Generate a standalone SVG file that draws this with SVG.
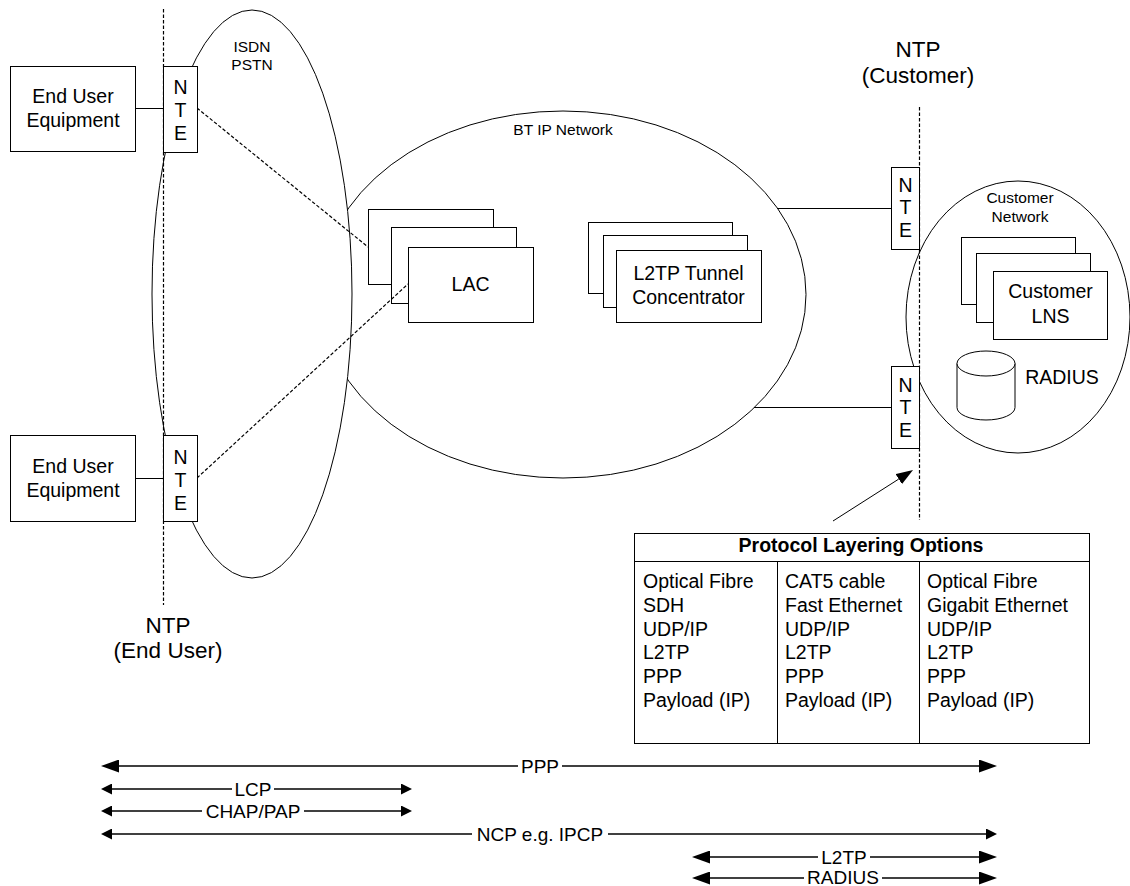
<svg xmlns="http://www.w3.org/2000/svg" width="1130" height="886" viewBox="0 0 1130 886">
<style>
.ln{stroke:#000;stroke-width:1;fill:none}
.box{fill:#fff;stroke:#000;stroke-width:1}
.cloud{fill:#fff;stroke:#000;stroke-width:1}
.dash{stroke:#000;stroke-width:1.2;stroke-dasharray:3.5 2;fill:none}
.arr{stroke:#000;stroke-width:1.5;fill:none}
.t{font-family:"Liberation Sans",Arial,Helvetica,sans-serif;font-size:19.5px;fill:#000}
.s{font-size:15.5px}
.big{font-size:22.5px}
.lbl{font-size:19px}
.b{font-weight:bold}
.m{text-anchor:middle}
.bg{fill:#fff;stroke:none}
</style>
<defs>
<marker id="ah" markerUnits="userSpaceOnUse" markerWidth="18" markerHeight="13" refX="0" refY="6.5" orient="auto-start-reverse" viewBox="0 0 18 13">
<path d="M0,0 L18,6.5 L0,13 z" fill="#000"/>
</marker>
<marker id="as" markerUnits="userSpaceOnUse" markerWidth="11" markerHeight="11" refX="0" refY="5.5" orient="auto-start-reverse" viewBox="0 0 11 11">
<path d="M0,0 L11,5.5 L0,11 z" fill="#000"/>
</marker>
<marker id="ap" markerUnits="userSpaceOnUse" markerWidth="17" markerHeight="12" refX="0" refY="6" orient="auto" viewBox="0 0 17 12">
<path d="M0,0 L17,6 L0,12 z" fill="#000"/>
</marker>
</defs>

<g id="bt-ip-network">
<ellipse class="cloud" cx="563" cy="294.5" rx="243" ry="183.5"/>
<text class="t s m" x="563" y="135">BT IP Network</text>
</g>

<g id="isdn-pstn">
<ellipse class="cloud" cx="252" cy="294" rx="100" ry="284"/>
<text class="t s m" x="252" y="52">ISDN</text>
<text class="t s m" x="252" y="70">PSTN</text>
</g>

<g id="customer-network">
<ellipse class="cloud" cx="1018" cy="317" rx="112" ry="136"/>
<text class="t s m" x="1020" y="203">Customer</text>
<text class="t s m" x="1020" y="222">Network</text>
</g>

<g id="lac">
<rect class="box" x="368.5" y="209.5" width="125" height="75"/>
<rect class="box" x="391.5" y="227.5" width="125" height="76"/>
<rect class="box" x="408.5" y="247.5" width="125" height="75"/>
<text class="t m" x="470.5" y="291">LAC</text>
</g>

<g id="l2tp-tunnel-concentrator">
<rect class="box" x="588.5" y="222.5" width="144" height="71"/>
<rect class="box" x="603.5" y="235.5" width="144" height="72"/>
<rect class="box" x="616.5" y="250.5" width="145" height="72"/>
<text class="t m" x="688.5" y="280">L2TP Tunnel</text>
<text class="t m" x="688.5" y="304">Concentrator</text>
</g>

<g id="customer-lns">
<rect class="box" x="961.5" y="237.5" width="114" height="67"/>
<rect class="box" x="976.5" y="253.5" width="114" height="69"/>
<rect class="box" x="993.5" y="271.5" width="114" height="68"/>
<text class="t m" x="1050.5" y="298">Customer</text>
<text class="t m" x="1050.5" y="323">LNS</text>
</g>

<g id="radius">
<path class="box" d="M957,363.5 V407.5 A29,12.5 0 0 0 1015,407.5 V363.5"/>
<ellipse class="box" cx="986" cy="363.5" rx="29" ry="12.5"/>
<text class="t m" x="1062" y="384">RADIUS</text>
</g>

<g id="connectors">
<line class="ln" x1="135" y1="108.5" x2="163" y2="108.5"/>
<line class="ln" x1="135" y1="478.5" x2="163" y2="478.5"/>
<line class="ln" x1="777" y1="208.5" x2="891" y2="208.5"/>
<line class="ln" x1="754" y1="407.5" x2="891" y2="407.5"/>
<line class="dash" x1="197" y1="108" x2="368" y2="247"/>
<line class="dash" x1="197" y1="478" x2="408" y2="284"/>
<line class="dash" x1="163.5" y1="9" x2="163.5" y2="605"/>
<line class="dash" x1="919.5" y1="107" x2="919.5" y2="520"/>
<line class="ln" x1="833" y1="521" x2="898.7" y2="479.1" marker-end="url(#ap)"/>
</g>

<g id="end-user-equipment-1">
<rect class="box" x="10.5" y="66.5" width="125" height="85"/>
<text class="t m" x="73" y="103">End User</text>
<text class="t m" x="73" y="127">Equipment</text>
</g>

<g id="end-user-equipment-2">
<rect class="box" x="10.5" y="435.5" width="125" height="86"/>
<text class="t m" x="73" y="473">End User</text>
<text class="t m" x="73" y="497">Equipment</text>
</g>

<g id="nte-1">
<rect class="box" x="163.5" y="66.5" width="34" height="86"/>
<text class="t m" x="180.5" y="94">N</text>
<text class="t m" x="180.5" y="117">T</text>
<text class="t m" x="180.5" y="140">E</text>
</g>

<g id="nte-2">
<rect class="box" x="163.5" y="435.5" width="34" height="86"/>
<text class="t m" x="180.5" y="464">N</text>
<text class="t m" x="180.5" y="487">T</text>
<text class="t m" x="180.5" y="510">E</text>
</g>

<g id="nte-3">
<rect class="box" x="891.5" y="167.5" width="28" height="82"/>
<text class="t m" x="905.5" y="192">N</text>
<text class="t m" x="905.5" y="214">T</text>
<text class="t m" x="905.5" y="237">E</text>
</g>

<g id="nte-4">
<rect class="box" x="891.5" y="366.5" width="28" height="82"/>
<text class="t m" x="905.5" y="392">N</text>
<text class="t m" x="905.5" y="414">T</text>
<text class="t m" x="905.5" y="437">E</text>
</g>

<g id="ntp-customer">
<text class="t big m" x="918" y="57">NTP</text>
<text class="t big m" x="918" y="83">(Customer)</text>
</g>

<g id="ntp-end-user">
<text class="t big m" x="168" y="633">NTP</text>
<text class="t big m" x="168" y="658">(End User)</text>
</g>

<g id="protocol-layering-options">
<rect class="box" x="634.5" y="533.5" width="455" height="210"/>
<line class="ln" x1="634.5" y1="561.5" x2="1089.5" y2="561.5"/>
<line class="ln" x1="777.5" y1="561.5" x2="777.5" y2="743.5"/>
<line class="ln" x1="919.5" y1="561.5" x2="919.5" y2="743.5"/>
<text class="t b m" x="861" y="552">Protocol Layering Options</text>
<text class="t" x="643" y="588">Optical Fibre</text>
<text class="t" x="643" y="612">SDH</text>
<text class="t" x="643" y="636">UDP/IP</text>
<text class="t" x="643" y="659">L2TP</text>
<text class="t" x="643" y="683">PPP</text>
<text class="t" x="643" y="707">Payload (IP)</text>
<text class="t" x="785" y="588">CAT5 cable</text>
<text class="t" x="785" y="612">Fast Ethernet</text>
<text class="t" x="785" y="636">UDP/IP</text>
<text class="t" x="785" y="659">L2TP</text>
<text class="t" x="785" y="683">PPP</text>
<text class="t" x="785" y="707">Payload (IP)</text>
<text class="t" x="927" y="588">Optical Fibre</text>
<text class="t" x="927" y="612">Gigabit Ethernet</text>
<text class="t" x="927" y="636">UDP/IP</text>
<text class="t" x="927" y="659">L2TP</text>
<text class="t" x="927" y="683">PPP</text>
<text class="t" x="927" y="707">Payload (IP)</text>
</g>

<g id="protocol-spans">
<line class="arr" x1="119" y1="766" x2="979" y2="766" marker-start="url(#ah)" marker-end="url(#ah)"/>
<rect class="bg" x="518" y="757" width="44" height="18"/>
<text class="t lbl m" x="540" y="773">PPP</text>

<line class="arr" x1="112" y1="789" x2="401" y2="789" marker-start="url(#as)" marker-end="url(#as)"/>
<rect class="bg" x="232" y="780" width="42" height="18"/>
<text class="t lbl m" x="253" y="796">LCP</text>

<line class="arr" x1="112" y1="811" x2="401" y2="811" marker-start="url(#as)" marker-end="url(#as)"/>
<rect class="bg" x="202" y="802" width="102" height="18"/>
<text class="t lbl m" x="253" y="818">CHAP/PAP</text>

<line class="arr" x1="112" y1="834" x2="986" y2="834" marker-start="url(#as)" marker-end="url(#as)"/>
<rect class="bg" x="472" y="825" width="136" height="18"/>
<text class="t lbl m" x="540" y="841">NCP e.g. IPCP</text>

<line class="arr" x1="710" y1="857" x2="979" y2="857" marker-start="url(#ah)" marker-end="url(#ah)"/>
<rect class="bg" x="818" y="848" width="52" height="18"/>
<text class="t lbl m" x="844" y="864">L2TP</text>

<line class="arr" x1="710" y1="878" x2="979" y2="878" marker-start="url(#ah)" marker-end="url(#ah)"/>
<rect class="bg" x="804" y="869" width="78" height="17"/>
<text class="t lbl m" x="843" y="884">RADIUS</text>
</g>
</svg>
